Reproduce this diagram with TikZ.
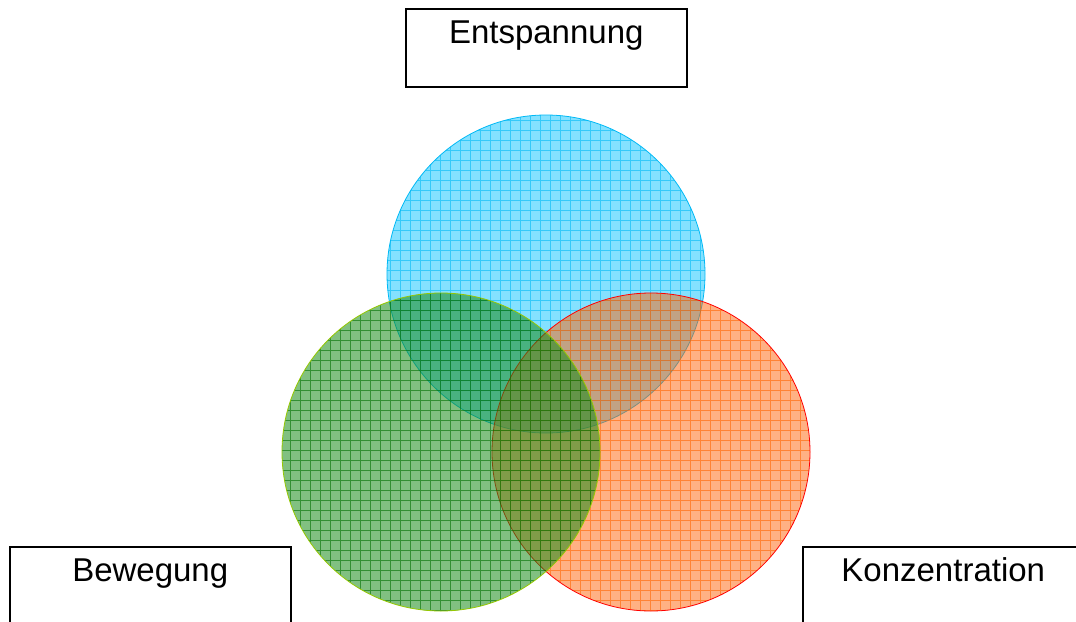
\documentclass[tikz,border=0pt]{standalone}
\usepackage{fontspec}
\setmainfont{Liberation Sans}
\usepackage{tikz}
\definecolor{azulrelleno}{RGB}{10,195,255}
\definecolor{azulrejilla}{RGB}{0,185,245}
\definecolor{verderelleno}{RGB}{25,140,25}
\definecolor{verderejilla}{RGB}{0,110,0}
\definecolor{verdeborde}{RGB}{150,200,0}
\definecolor{naranjarelleno}{RGB}{255,100,10}
\definecolor{naranjarejilla}{RGB}{255,100,0}
\tikzset{caja/.style={draw, line width=1.5pt, text width=281pt, align=center, inner sep=0pt, text height=35pt, text depth=43pt, font=\fontsize{33}{40}\selectfont}}

\begin{document}
\begin{tikzpicture}[x=1pt,y=-1pt]
	\useasboundingbox (0,0) rectangle (1076,621); %marco de la figura
	\coordinate (Ec) at (546,274); %centro del circulo de Entspannung
	\coordinate (Bc) at (441,452); %centro del circulo de Bewegung
	\coordinate (Kc) at (651,452); %centro del circulo de Konzentration
	\fill[azulrelleno, fill opacity=.5] (Ec) circle[radius=159pt]; %circulo azul
	\begin{scope} \clip (Ec) circle[radius=159pt]; \draw[azulrejilla, opacity=.6, step=10pt] (380,110) grid (710,440); \end{scope}
	\draw[azulrejilla, line width=.8pt] (Ec) circle[radius=159pt];
	\fill[naranjarelleno, fill opacity=.5] (Kc) circle[radius=159pt]; %circulo naranja
	\begin{scope} \clip (Kc) circle[radius=159pt]; \draw[naranjarejilla, opacity=.6, step=10pt] (480,290) grid (820,620); \end{scope}
	\draw[red, line width=.8pt] (Kc) circle[radius=159pt];
	\fill[verderelleno, fill opacity=.55] (Bc) circle[radius=159pt]; %circulo verde
	\begin{scope} \clip (Bc) circle[radius=159pt]; \draw[verderejilla, opacity=.6, step=10pt] (270,290) grid (610,620); \end{scope}
	\draw[verdeborde, line width=.8pt] (Bc) circle[radius=159pt];
	\node[caja, anchor=north west] (E) at (405,8) {Entspannung}; %caja de arriba
	\node[caja, anchor=north west] (B) at (9,546) {Bewegung}; %caja izquierda
	\node[caja, anchor=north west] (K) at (802,546) {Konzentration}; %caja derecha
\end{tikzpicture}
\end{document}
